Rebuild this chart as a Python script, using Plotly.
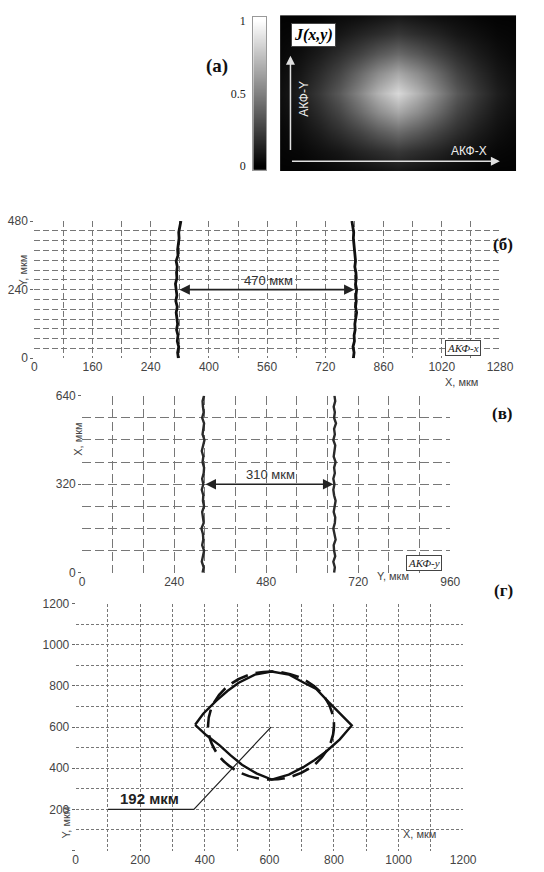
import plotly.graph_objects as go

W, H = 544, 872
def fx(px): return px / W
def fy(py): return 1 - py / H

# ---------------- data ----------------
# (а) autocorrelation J(x,y): intensities read on a coarse grid (rows bottom->top)
img_x = [0, 1/12, 2/12, 3/12, 4/12, 5/12, 0.5, 7/12, 8/12, 9/12, 10/12, 11/12, 1.0]
img_y = [0, 0.125, 0.25, 0.375, 0.5, 0.625, 0.75, 0.875, 1.0]
img_z = [
    [0.01, 0.01, 0.02, 0.04, 0.05, 0.07, 0.09, 0.07, 0.05, 0.04, 0.02, 0.01, 0.01],
    [0.02, 0.03, 0.06, 0.09, 0.14, 0.18, 0.22, 0.18, 0.14, 0.09, 0.06, 0.03, 0.02],
    [0.03, 0.06, 0.11, 0.18, 0.26, 0.35, 0.42, 0.35, 0.26, 0.18, 0.11, 0.06, 0.03],
    [0.05, 0.09, 0.17, 0.27, 0.41, 0.55, 0.66, 0.55, 0.41, 0.27, 0.17, 0.09, 0.05],
    [0.06, 0.12, 0.22, 0.35, 0.52, 0.70, 0.85, 0.70, 0.52, 0.35, 0.22, 0.12, 0.06],
    [0.05, 0.09, 0.17, 0.27, 0.41, 0.55, 0.66, 0.55, 0.41, 0.27, 0.17, 0.09, 0.05],
    [0.03, 0.06, 0.11, 0.18, 0.26, 0.35, 0.42, 0.35, 0.26, 0.18, 0.11, 0.06, 0.03],
    [0.02, 0.03, 0.06, 0.09, 0.14, 0.18, 0.22, 0.18, 0.14, 0.09, 0.06, 0.03, 0.02],
    [0.01, 0.01, 0.02, 0.04, 0.05, 0.07, 0.09, 0.07, 0.05, 0.04, 0.02, 0.01, 0.01],
]
cb_levels = [0, 0.25, 0.5, 0.75, 1.0]
cb_ticks = [0, 0.5, 1]
cb_text = ["0", "0.5", "1"]

# (б) АКФ-x contour edges
b_y = [0, 20, 40, 60, 80, 100, 120, 140, 160, 180, 200, 220, 240, 260, 280, 300,
       320, 340, 360, 380, 400, 420, 440, 460, 480]
b_left = [396, 394, 397, 393, 395, 391, 394, 392, 390, 393, 389, 392, 390, 388, 392, 391,
          393, 390, 395, 394, 396, 398, 397, 401, 403]
b_right = [877, 879, 876, 880, 879, 882, 881, 883, 886, 883, 885, 884, 886, 883, 885, 884,
           881, 883, 882, 879, 880, 877, 878, 875, 873]
b_xticks = [0, 160, 320, 480, 640, 800, 960, 1120, 1280]
b_xtext = ["0", "160", "240", "400", "560", "720", "860", "1020", "1280"]
b_yticks = [0, 240, 480]
b_arrow = [395, 880]
b_arrow_y = 240
b_label = "470 мкм"

# (в) АКФ-y contour edges
c_y = [0, 20, 40, 60, 80, 100, 120, 140, 160, 180, 200, 220, 240, 260, 280, 300, 320,
       340, 360, 380, 400, 420, 440, 460, 480, 500, 520, 540, 560, 580, 600, 620, 640]
c_left = [314, 317, 312, 315, 318, 313, 316, 315, 311, 317, 314, 313, 318, 315, 316, 312, 316,
          313, 317, 318, 314, 316, 312, 315, 319, 314, 316, 318, 313, 317, 315, 314, 318]
c_right = [657, 659, 655, 660, 657, 656, 661, 658, 655, 659, 660, 656, 658, 661, 657, 655, 658,
           655, 659, 657, 661, 656, 658, 660, 655, 659, 657, 662, 657, 659, 656, 660, 658]
c_xticks = [0, 240, 480, 720, 960]
c_yticks = [0, 320, 640]
c_arrow = [318, 655]
c_arrow_y = 320
c_label = "310 мкм"

# (г) reconstructed contour (solid) and fitted circle (dashed)
lens_x = [370, 395, 435, 470, 505, 555, 607, 660, 707, 745, 783, 825, 855,
          818, 775, 740, 705, 660, 607, 560, 515, 480, 445, 405, 370]
lens_y = [611, 665, 727, 775, 815, 855, 870, 855, 815, 785, 722, 656, 608,
          540, 480, 440, 405, 369, 345, 375, 417, 462, 512, 560, 611]
circle_box = dict(x0=410, x1=800, y0=345, y1=870)
leader_x = [605, 366, 100]
leader_y = [600, 200, 200]
d_ticks = [0, 200, 400, 600, 800, 1000, 1200]
d_xtext = ["0", "200", "400", "600", "800", "1000", "1200"]
d_ytext = ["", "200", "400", "600", "800", "1000", "1200"]
d_label = "192 мкм"

# ---------------- figure ----------------
SANS = "Liberation Sans, Arial, sans-serif"
SERIF = "Liberation Serif, Times New Roman, serif"
TICKF = dict(family=SANS, size=12, color="#444")

fig = go.Figure()

# (а) image
fig.add_trace(go.Heatmap(x=img_x, y=img_y, z=img_z, zmin=0, zmax=1, zsmooth="best",
                         colorscale=[[0, "black"], [1, "white"]], showscale=False,
                         xaxis="x", yaxis="y", hoverinfo="skip"))
# colour bar as its own small axis
fig.add_trace(go.Heatmap(x=[0, 1], y=cb_levels, z=[[v, v] for v in cb_levels], zmin=0, zmax=1,
                         zsmooth="best", colorscale=[[0, "black"], [1, "white"]],
                         showscale=False, xaxis="x2", yaxis="y2", hoverinfo="skip"))

LINE_B = dict(color="#111", width=2.8)
fig.add_trace(go.Scatter(x=b_left, y=b_y, mode="lines", line=LINE_B, xaxis="x3", yaxis="y3"))
fig.add_trace(go.Scatter(x=b_right, y=b_y, mode="lines", line=LINE_B, xaxis="x3", yaxis="y3"))

LINE_C = dict(color="#2a2a2a", width=2.4)
fig.add_trace(go.Scatter(x=c_left, y=c_y, mode="lines", line=LINE_C, xaxis="x4", yaxis="y4"))
fig.add_trace(go.Scatter(x=c_right, y=c_y, mode="lines", line=LINE_C, xaxis="x4", yaxis="y4"))

fig.add_trace(go.Scatter(x=lens_x, y=lens_y, mode="lines", line=dict(color="#111", width=2.4),
                         xaxis="x5", yaxis="y5"))
fig.add_trace(go.Scatter(x=leader_x, y=leader_y, mode="lines", line=dict(color="#222", width=1.2),
                         xaxis="x5", yaxis="y5"))

fig.add_shape(type="circle", xref="x5", yref="y5", **circle_box,
              line=dict(color="#111", width=2.6, dash="18px,8px"))


def grid_axis(px0, px1, rng, tickvals, ticktext, minor_dtick, dash, anchor, vertical=False):
    if vertical:
        dom = [fy(px1), fy(px0)]
        ticks = "outside"
    else:
        dom = [fx(px0), fx(px1)]
        ticks = ""
    gc = "#777"
    return dict(domain=dom, range=rng, tickmode="array", tickvals=tickvals, ticktext=ticktext,
                showgrid=True, gridcolor=gc, griddash=dash, gridwidth=1,
                minor=dict(tick0=0, dtick=minor_dtick, showgrid=True, gridcolor=gc,
                           griddash=dash, gridwidth=1, ticks=""),
                zeroline=False, showline=False, ticks=ticks, ticklen=3, tickcolor="#666",
                tickfont=TICKF, anchor=anchor, fixedrange=True)


layout = dict(
    width=W, height=H, margin=dict(l=0, r=0, t=0, b=0), showlegend=False,
    paper_bgcolor="white", plot_bgcolor="white",
    xaxis=dict(domain=[fx(286), fx(530)], range=[0, 1], visible=False, anchor="y"),
    yaxis=dict(domain=[fy(166.7), fy(8.3)], range=[0, 1], visible=False, anchor="x"),
    xaxis2=dict(domain=[fx(258.3), fx(271.7)], range=[-0.5, 1.5], showticklabels=False,
                ticks="", showgrid=False, zeroline=False, showline=True, mirror=True,
                linecolor="#999", linewidth=1, anchor="y2"),
    yaxis2=dict(domain=[fy(165.7), fy(10)], range=[-0.03, 1.03], tickvals=cb_ticks,
                ticktext=cb_text, ticks="", showgrid=False, zeroline=False, showline=True,
                mirror=True, linecolor="#999", linewidth=1, side="left", anchor="x2",
                tickfont=dict(family=SERIF, size=12, color="#222"), ticklabelstandoff=4),
    xaxis3=grid_axis(32.3, 513, [0, 1280], b_xticks, b_xtext, 80, "6px,3px", "y3"),
    yaxis3=grid_axis(217.5, 357, [0, 480], b_yticks, [str(v) for v in b_yticks], 480 / 14,
                     "6px,3px", "x3", vertical=True),
    xaxis4=grid_axis(81.7, 461.7, [0, 960], c_xticks, [str(v) for v in c_xticks], 80,
                     "9px,4px", "y4"),
    yaxis4=grid_axis(395, 575, [0, 640], c_yticks, [str(v) for v in c_yticks], 80,
                     "9px,4px", "x4", vertical=True),
    xaxis5=grid_axis(75, 475, [0, 1200], d_ticks, d_xtext, 100, "3px,2px", "y5"),
    yaxis5=grid_axis(606.3, 857.3, [0, 1200], d_ticks, d_ytext, 100, "3px,2px", "x5",
                     vertical=True),
)
fig.update_layout(**layout)

ann = []
def ptext(text, px, py, size=12, font=SANS, color="#333", angle=0, **kw):
    ann.append(dict(text=text, x=fx(px), y=fy(py), xref="paper", yref="paper",
                    showarrow=False, textangle=angle,
                    font=dict(family=font, size=size, color=color), **kw))

# (а) overlays
ann.append(dict(text="<b><i>J(x,y)</i></b>", x=0.141, y=0.87, xref="x", yref="y",
                showarrow=False, bgcolor="white", bordercolor="#444", borderwidth=1,
                borderpad=2, font=dict(family=SERIF, size=16, color="black")))
ann.append(dict(x=0.044, y=0.74, ax=0.044, ay=0.126, xref="x", yref="y", axref="x", ayref="y",
                text="", showarrow=True, arrowhead=2, arrowsize=1.2, arrowwidth=1.5,
                arrowcolor="#e0e0e0"))
ann.append(dict(x=0.93, y=0.063, ax=0.044, ay=0.063, xref="x", yref="y", axref="x", ayref="y",
                text="", showarrow=True, arrowhead=2, arrowsize=1.2, arrowwidth=1.5,
                arrowcolor="#e0e0e0"))
ann.append(dict(text="АКФ-Y", x=0.098, y=0.465, xref="x", yref="y", showarrow=False,
                textangle=-90, font=dict(family=SANS, size=12, color="#eee")))
ann.append(dict(text="АКФ-X", x=0.80, y=0.13, xref="x", yref="y", showarrow=False,
                font=dict(family=SANS, size=12, color="#eee")))
ptext("<b>(а)</b>", 221, 47, size=19, font=SERIF, color="#111")

# (б)
ann.append(dict(x=b_arrow[1], y=b_arrow_y, ax=b_arrow[0], ay=b_arrow_y, xref="x3", yref="y3",
                axref="x3", ayref="y3", text="", showarrow=True, arrowhead=2, arrowside="end+start",
                arrowsize=1.3, arrowwidth=1.6, arrowcolor="#222"))
ann.append(dict(text=b_label, x=645, y=b_arrow_y, xref="x3", yref="y3", yanchor="bottom",
                showarrow=False, font=dict(family=SANS, size=13, color="#333")))
ann.append(dict(text="<i>АКФ-x</i>", x=1178, y=35, xref="x3", yref="y3", showarrow=False,
                bgcolor="white", bordercolor="#444", borderwidth=1, borderpad=1,
                font=dict(family=SERIF, size=11, color="#222")))
ptext("Y, мкм", 12, 250, size=11, color="#444", angle=-90)
ptext("X, мкм", 492, 381, size=11, color="#444")
ptext("<b>(б)</b>", 528, 230, size=17, font=SERIF, color="#111")

# (в)
ann.append(dict(x=c_arrow[1], y=c_arrow_y, ax=c_arrow[0], ay=c_arrow_y, xref="x4", yref="y4",
                axref="x4", ayref="y4", text="", showarrow=True, arrowhead=2, arrowside="end+start",
                arrowsize=1.3, arrowwidth=1.6, arrowcolor="#222"))
ann.append(dict(text=c_label, x=491, y=c_arrow_y, xref="x4", yref="y4", yanchor="bottom",
                showarrow=False, font=dict(family=SANS, size=13, color="#333")))
ann.append(dict(text="<i>АКФ-y</i>", x=891, y=34, xref="x4", yref="y4", showarrow=False,
                bgcolor="white", bordercolor="#444", borderwidth=1, borderpad=1,
                font=dict(family=SERIF, size=11, color="#222")))
ptext("X, мкм", 69, 439, size=11, color="#444", angle=-90)
ptext("Y, мкм", 421, 586, size=11, color="#444")
ptext("<b>(в)</b>", 529, 413, size=17, font=SERIF, color="#111")

# (г)
ann.append(dict(text="<b>" + d_label + "</b>", x=228, y=200, xref="x5", yref="y5",
                yanchor="bottom", showarrow=False, font=dict(family=SANS, size=15, color="#222")))
ptext("Y, мкм", 57, 847, size=11, color="#444", angle=-90)
ptext("X, мкм", 449, 849, size=11, color="#444")
ptext("<b>(г)</b>", 529, 605, size=17, font=SERIF, color="#111")

fig.update_layout(annotations=ann)
fig.write_html("out.html", config={"displayModeBar": False},
               post_script="document.body.style.margin='0';document.body.style.overflow='hidden';")
